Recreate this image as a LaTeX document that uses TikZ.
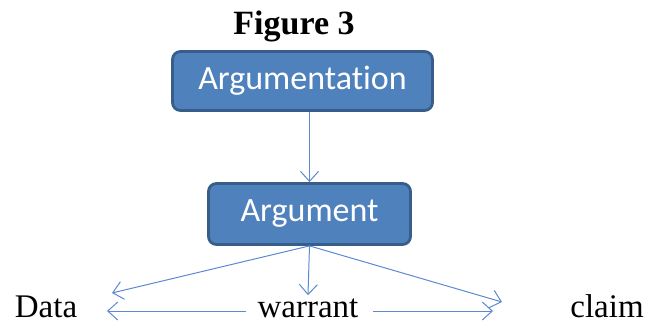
\documentclass[tikz,border=0pt]{standalone}
\usepackage{fontspec}
\setmainfont{Liberation Serif}
\newfontfamily\boxfont[Ligatures=NoCommon]{Carlito}
\usetikzlibrary{arrows.meta}
\definecolor{boxfill}{HTML}{4F81BD}
\definecolor{boxedge}{HTML}{385D8A}
\definecolor{linkblue}{HTML}{5B8AD0}
\begin{document}
\begin{tikzpicture}[x=1pt,y=1pt,
				box/.style={draw=boxedge, line width=2.8pt, fill=boxfill, rounded corners=8pt, text=white, font=\boxfont\fontsize{34}{38}\selectfont, inner sep=0pt},
				link/.style={draw=linkblue, line width=1pt, -{Straight Barb[length=10pt,width=18pt,line width=1pt]}},
				word/.style={font=\fontsize{33}{37}\selectfont, inner sep=0pt, anchor=base}
				]
			\useasboundingbox (0,0) rectangle (661,324);
			\node [font=\bfseries\fontsize{34}{38}\selectfont, anchor=base] (title) at (294,289) {Figure 3};
			\node [box, minimum width=260pt, minimum height=59pt] (argumentation) at (302.5,243) {Argumentation};
			\node [box, minimum width=202pt, minimum height=61pt] (argument) at (309.5,110) {Argument};
			\node [word] (data) at (46,7) {Data};
			\node [word] (warrant) at (308,7) {warrant};
			\node [word] (claim) at (607,7) {claim};
			\coordinate (dataend) at (112,31);
			\coordinate (claimend) at (502,22);
			\coordinate (leftend) at (107,13);
			\coordinate (rightend) at (493,13);
			\draw [link] (argumentation.south -| argument) -- (argument.north);
			\draw [link] (argument.south) -- (dataend);
			\draw [link] (argument.south) -- ([yshift=3pt]warrant.north);
			\draw [link] (argument.south) -- (claimend);
			\draw [link] ([xshift=-11pt]warrant.west |- leftend) -- (leftend);
			\draw [link] ([xshift=14pt]warrant.east |- rightend) -- (rightend);
			\end{tikzpicture}
\end{document}
